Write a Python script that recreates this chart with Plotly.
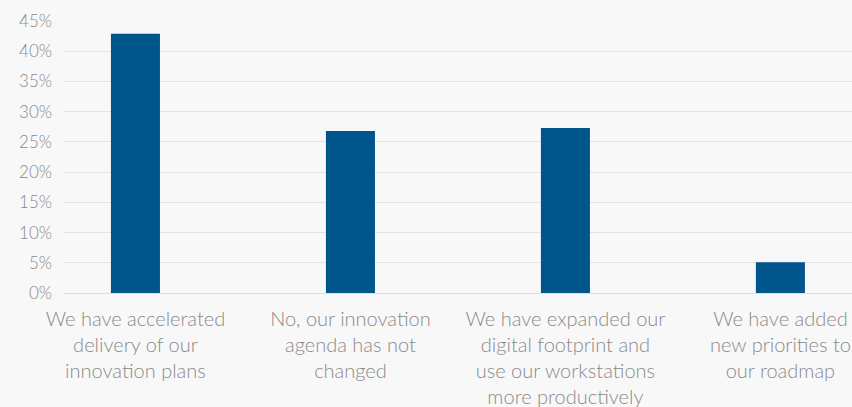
import plotly.graph_objects as go

categories = [
    "We have accelerated<br>delivery of our<br>innovation plans",
    "No, our innovation<br>agenda has not<br>changed",
    "We have expanded our<br>digital footprint and<br>use our workstations<br>more productively",
    "We have added<br>new priorities to<br>our roadmap",
]
values = [42.9, 26.8, 27.3, 5.1]
y_ticks = [0, 5, 10, 15, 20, 25, 30, 35, 40, 45]
y_tick_labels = [f"{t}%" for t in y_ticks]

positions = list(range(len(categories)))

fig = go.Figure(
    go.Bar(
        x=positions,
        y=values,
        width=0.228,
        marker=dict(color="#00558c", line=dict(width=0)),
        hoverinfo="skip",
    )
)

fig.update_layout(
    width=852,
    height=407,
    margin=dict(l=63, r=0, t=21, b=114),
    paper_bgcolor="#f8f8f8",
    plot_bgcolor="#f8f8f8",
    showlegend=False,
    font=dict(family="Lato", color="#8a8a8a"),
)

fig.update_xaxes(
    range=[-0.337, 3.333],
    tickmode="array",
    tickvals=positions,
    ticktext=categories,
    tickfont=dict(family="Lato", size=20, color="#8a8a8a", weight=300),
    showgrid=False,
    zeroline=False,
    showline=False,
    ticks="",
    ticklabelstandoff=12,
)

fig.update_yaxes(
    range=[0, 45],
    tickmode="array",
    tickvals=y_ticks,
    ticktext=y_tick_labels,
    tickfont=dict(family="Lato", size=17, color="#8a8a8a", weight=300),
    showgrid=True,
    gridcolor="#e3e3e3",
    gridwidth=1,
    zeroline=True,
    zerolinecolor="#dedede",
    zerolinewidth=1,
    showline=False,
    ticks="",
    ticklabelstandoff=10,
)

fig.write_html("out.html")
